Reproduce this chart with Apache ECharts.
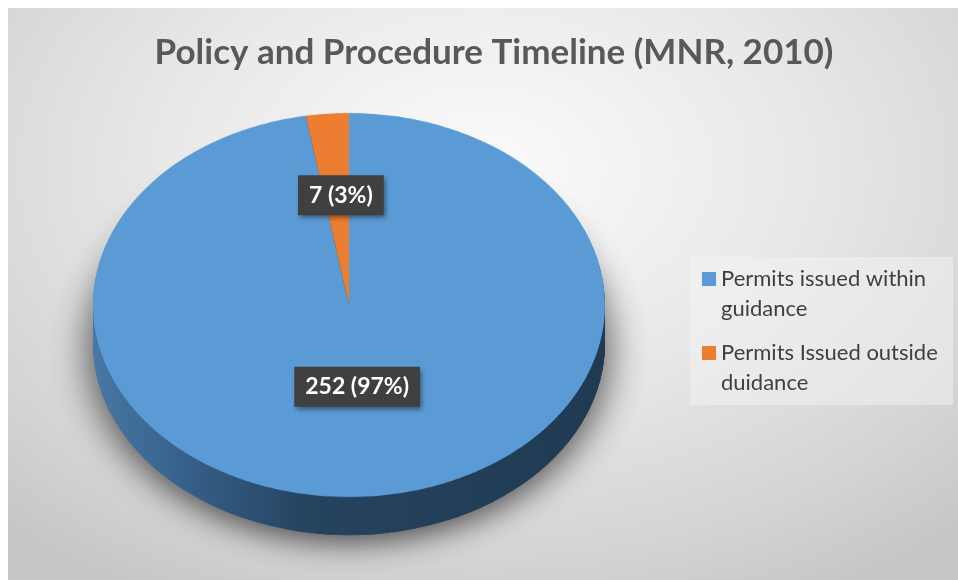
<!DOCTYPE html>
<html>
<head>
<meta charset="utf-8">
<script src="https://cdn.jsdelivr.net/npm/echarts@6/dist/echarts.min.js"></script>
<style>
  html, body { margin: 0; padding: 0; width: 958px; height: 580px; overflow: hidden; background: #ffffff; }
  #bg { position: absolute; left: 8px; top: 8px; width: 950px; height: 572px;
        background: radial-gradient(ellipse 75% 85% at 50% 28%, #fbfbfb 0%, #e8e8e8 45%, #d4d4d4 80%, #c6c6c6 100%); }
  #pie { position: absolute; left: 0; top: 0; width: 958px; height: 800px;
         transform-origin: 0 0; transform: scaleY(0.75); }
  #overlay { position: absolute; left: 0; top: 0; width: 958px; height: 580px; }
</style>
</head>
<body>
<div id="bg"></div>
<div id="pie"></div>
<div id="overlay"></div>
<script>
// ---- data ----
const titleText = 'Policy and Procedure Timeline (MNR, 2010)';
const categories = ['Permits issued within\nguidance', 'Permits Issued outside\nduidance'];
const values = [252, 7];
const colors = ['#5b9bd5', '#ed7d31'];

// ---- layout constants ----
const SCALE_Y = 0.75;
const CX = 349, CY = 305, R = 256, DEPTH = 38;
const FONT = 'Lato, "Open Sans", sans-serif';

function pieData() {
  return categories.map((n, i) => ({ name: n, value: values[i] }));
}

// ---- tilted 3D-looking pie (scaled vertically by CSS) ----
const pieChart = echarts.init(document.getElementById('pie'), null, { renderer: 'canvas' });
const sideGradient = {
  type: 'linear', x: CX - R, y: 0, x2: CX + R, y2: 0, global: true,
  colorStops: [
    { offset: 0, color: '#4878a6' },
    { offset: 0.18, color: '#36608a' },
    { offset: 0.42, color: '#26435f' },
    { offset: 1, color: '#203a52' }
  ]
};
const pieSeries = [];
const N = 26;
const cyDiv = CY / SCALE_Y, depthDiv = DEPTH / SCALE_Y;
// shadow casters at the deepest position, drawn first
[0, 1].forEach(() => {
  pieSeries.push({
    type: 'pie', silent: true, animation: false,
    center: [CX, cyDiv + depthDiv], radius: R,
    data: pieData(),
    label: { show: false }, labelLine: { show: false },
    itemStyle: { color: sideGradient, borderWidth: 0,
      shadowColor: 'rgba(0,0,0,0.4)', shadowBlur: 40, shadowOffsetY: 8 },
    emphasis: { disabled: true }
  });
});
for (let k = N; k >= 1; k--) {
  pieSeries.push({
    type: 'pie', silent: true, animation: false,
    center: [CX, cyDiv + depthDiv * k / N], radius: R,
    data: pieData(),
    label: { show: false }, labelLine: { show: false },
    itemStyle: { color: sideGradient, borderWidth: 0 },
    emphasis: { disabled: true }
  });
}
pieSeries.push({
  type: 'pie', silent: true, animation: false,
  center: [CX, cyDiv], radius: R,
  data: pieData().map((d, i) => ({ ...d, itemStyle: { color: colors[i] } })),
  label: { show: false }, labelLine: { show: false },
  itemStyle: { borderWidth: 0 },
  emphasis: { disabled: true }
});
pieChart.setOption({ animation: false, series: pieSeries });

// ---- overlay: title, legend, labels ----
const TITLE_SIZE = 35;
const ctx = document.createElement('canvas').getContext('2d');
ctx.font = 'bold ' + TITLE_SIZE + 'px ' + FONT;
const titleW = ctx.measureText(titleText).width;

const overlay = echarts.init(document.getElementById('overlay'));
overlay.setOption({
  animation: false,
  title: {
    text: titleText,
    left: 489 - titleW / 2,
    top: 30,
    textStyle: { fontFamily: FONT, fontWeight: 'bold', fontSize: TITLE_SIZE, color: '#595959' }
  },
  graphic: [{
    type: 'rect', left: 690, top: 257, z: -1,
    shape: { width: 263, height: 148 },
    style: { fill: 'rgba(244,244,244,0.5)' }
  }],
  legend: {
    orient: 'vertical', left: 702, top: 234, padding: 0,
    itemWidth: 14, itemHeight: 14, itemGap: -16, icon: 'rect',
    selectedMode: false,
    data: categories.map((n, i) => ({ name: n, itemStyle: { color: colors[i] } })),
    formatter: name => '\n' + name,
    textStyle: { fontFamily: FONT, fontSize: 22, color: '#404040', lineHeight: 30 }
  },
  series: [{
    type: 'pie', silent: true, animation: false,
    center: [CX, 291], radius: 186,
    percentPrecision: 0,
    data: pieData().map((d, i) => ({ ...d, itemStyle: { color: 'rgba(0,0,0,0)' } })),
    itemStyle: { borderWidth: 0 },
    labelLine: { show: false },
    emphasis: { disabled: true },
    label: {
      show: true, position: 'inside',
      formatter: '{c} ({d}%)',
      fontFamily: FONT, fontWeight: 'bold', fontSize: 23, color: '#ffffff',
      backgroundColor: '#404040', padding: [9, 11, 8, 11],
      shadowColor: 'rgba(0,0,0,0.45)', shadowBlur: 5, shadowOffsetX: 2, shadowOffsetY: 3
    }
  }]
});
</script>
</body>
</html>
